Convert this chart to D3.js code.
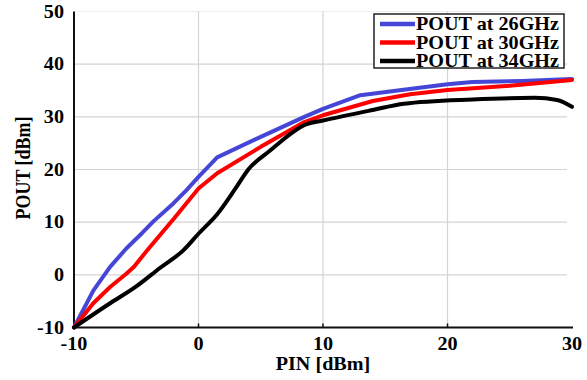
<!DOCTYPE html>
<html><head><meta charset="utf-8">
<script src="https://cdn.jsdelivr.net/npm/d3@7"></script>
<style>body{margin:0;background:#fff}svg{display:block}</style>
</head><body>
<script>
const xTicks=[-10,0,10,20,30];
const yTicks=[-10,0,10,20,30,40,50];
const seriesNames=["POUT at 26GHz","POUT at 30GHz","POUT at 34GHz"];
const seriesColors=["#4646d6","#ff0000","#000000"];
const pout26=[[-10,-10],[-9.2,-6.4],[-8.45,-3],[-7.1,1.5],[-5.8,5],[-4.5,8],[-3.6,10.2],[-2,13.6],[-1,16],[0,18.6],[1.5,22.3],[5,26.2],[8.5,30],[10,31.5],[13,34.1],[16,35],[20,36.2],[22,36.6],[26,36.8],[30,37.2]];
const pout30=[[-10,-10],[-8.45,-5.4],[-7.1,-2.3],[-5.8,0.2],[-5.2,1.5],[-4,5],[-2,10.6],[0,16.4],[1.5,19.3],[5,24.3],[8.5,29],[10,30.3],[14,33],[17,34.3],[20,35.1],[25,35.9],[30,37]];
const pout34=[[-10,-10],[-7.1,-5.4],[-5,-2.2],[-3.1,1.3],[-1.2,4.7],[0,7.8],[1.5,11.5],[3,16.5],[4,20],[5.7,23.5],[8.7,28.6],[10,29.3],[14,31.3],[16.5,32.5],[22,33.3],[27,33.6],[28.8,33.2],[30,31.9]];
const series=[pout26,pout30,pout34];

const W=587,H=380;
const svg=d3.select("body").append("svg").attr("width",W).attr("height",H);
const x=d3.scaleLinear().domain([-10,30]).range([74,572]);
const y=d3.scaleLinear().domain([-10,50]).range([327.5,11.5]);
const font="'Liberation Serif','Times New Roman',serif";
const SX=1.12;
function label(sel,tx,ty,txt,anchor,rot){
  return sel.append("text")
   .attr("transform",`translate(${tx},${ty}) scale(${SX},1)`+(rot?` rotate(${rot})`:""))
   .attr("text-anchor",anchor)
   .style("font-family",font).style("font-weight","bold").style("font-size","18px").text(txt);
}

// gridlines
const g=svg.append("g");
g.selectAll(".hg").data(yTicks.filter(d=>d>-10)).join("line")
 .attr("x1",x(-10)).attr("x2",567).attr("y1",d=>y(d)).attr("y2",d=>y(d))
 .attr("stroke",d=>d===50?"#eeeeee":"#d4d4d4").attr("stroke-width",1.2);
g.selectAll(".vg").data(xTicks.filter(d=>d>-10&&d<30)).join("line")
 .attr("x1",d=>x(d)).attr("x2",d=>x(d)).attr("y1",y(50)).attr("y2",y(-10))
 .attr("stroke","#d4d4d4").attr("stroke-width",1.2);

// axes lines
svg.append("line").attr("x1",x(-10)).attr("x2",x(-10)).attr("y1",y(50)).attr("y2",y(-10)).attr("stroke","#111").attr("stroke-width",2);
svg.append("line").attr("x1",x(-10)-1).attr("x2",x(30)+1).attr("y1",y(-10)).attr("y2",y(-10)).attr("stroke","#111").attr("stroke-width",2);
svg.selectAll(".xt").data(xTicks.filter(d=>d>-10&&d<30)).join("line")
 .attr("x1",d=>x(d)).attr("x2",d=>x(d)).attr("y1",y(-10)).attr("y2",y(-10)-4).attr("stroke","#111").attr("stroke-width",1.5);

// tick labels
xTicks.forEach(d=>label(svg,x(d),350,d,"middle"));
yTicks.forEach(d=>label(svg,64,y(d)+6,d,"end"));

// axis titles
label(svg,323,370,"PIN [dBm]","middle");
label(svg,30,168,"POUT [dBm]","middle",-90);

// lines
const curves=[d3.curveLinear,d3.curveLinear,d3.curveMonotoneX];
series.forEach((s,i)=>{
  svg.append("path").datum(s)
   .attr("d",d3.line().x(d=>x(d[0])).y(d=>y(d[1])).curve(curves[i]))
   .attr("fill","none").attr("stroke",seriesColors[i]).attr("stroke-width",4)
   .attr("stroke-linejoin","round").attr("stroke-linecap","round");
});

// legend
const lg=svg.append("g");
lg.append("rect").attr("x",374).attr("y",14).attr("width",190).attr("height",54)
 .attr("fill","#fff").attr("stroke","#222").attr("stroke-width",1.5);
seriesNames.forEach((n,i)=>{
  const yy=24+i*18.5;
  lg.append("line").attr("x1",380).attr("x2",415).attr("y1",yy).attr("y2",yy)
   .attr("stroke",seriesColors[i]).attr("stroke-width",4.5);
  label(lg,416,yy+6,n,"start");
});
</script>
</body></html>
